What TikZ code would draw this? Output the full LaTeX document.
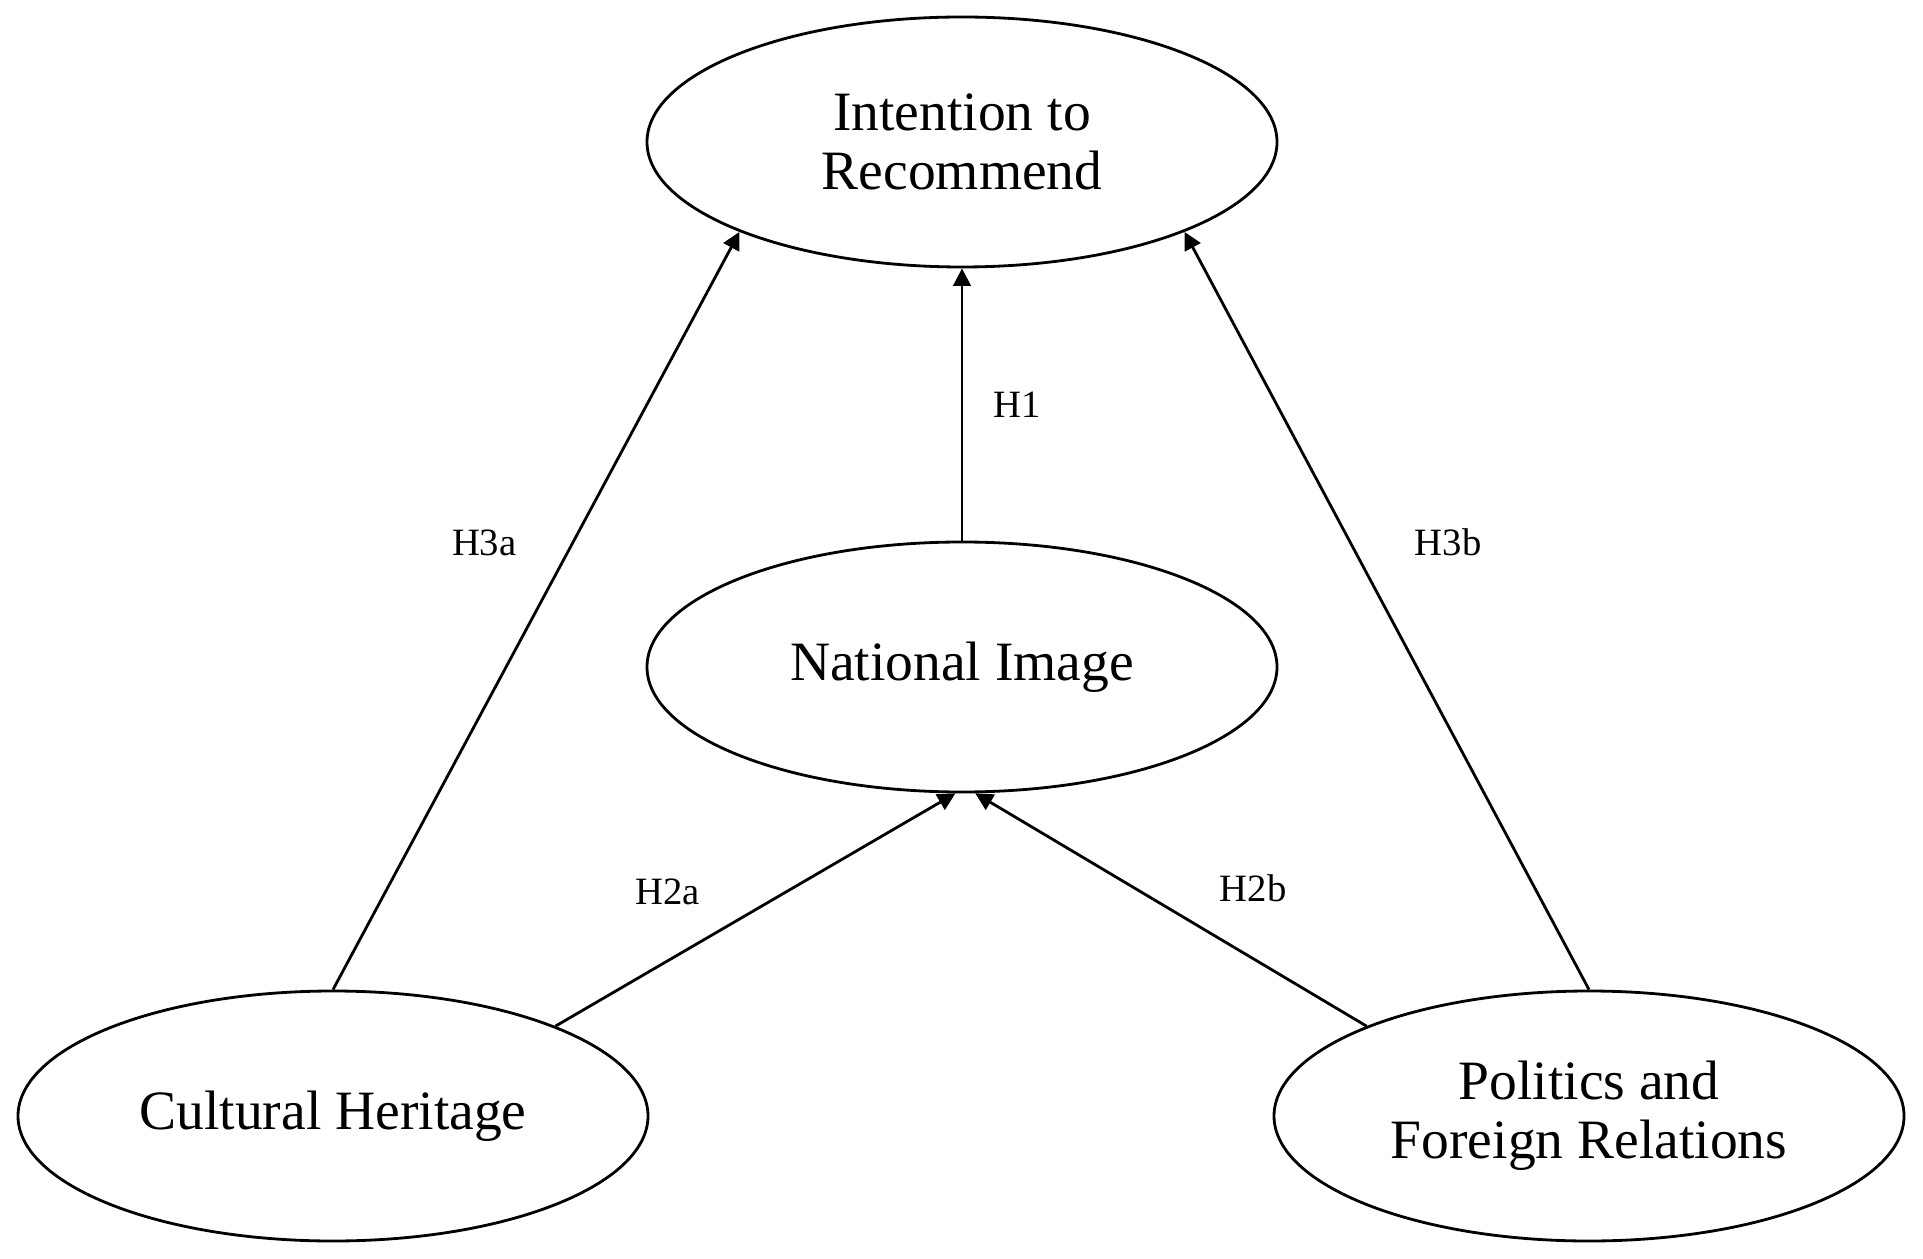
\documentclass[tikz,border=0pt]{standalone}
\usepackage{fontspec}
\setmainfont{Liberation Serif}
\usepackage{tikz}
\usetikzlibrary{positioning, shapes, arrows.meta}
\tikzset{C/.style={draw, ellipse, inner sep=0pt, minimum width=6.3cm, minimum height=2.5cm, align=center, font=\fontsize{15.8}{16.8}\selectfont}}
\tikzset{H/.style={inner sep=0pt, font=\fontsize{11}{12}\selectfont}}

\begin{document}
\begin{tikzpicture}[->, >={Triangle[length=5pt, width=5pt]}, line width=0.8pt]
\useasboundingbox (0,0) rectangle (19.23,12.58);
\node (NI) [C] at (9.62,5.91) {National Image};
\node (IR) [C, above of=NI, node distance=5.25cm] {Intention to\\Recommend};
\node (CH) [C] at (3.33,1.42) {Cultural Heritage};
\node (PF) [C, right of=CH, node distance=12.56cm] {Politics and\\Foreign Relations};
%
\path (NI) edge node[H, right=3mm] {H1} (IR);
\path (CH.north) edge node[H, pos=.59, left=5.5mm] {H3a} (IR.202);
\path (PF.north) edge node[H, pos=.59, right=6.3mm] {H3b} (IR.338);
\path (CH.22) edge node[H, pos=.28, above=5.5mm] {H2a} (NI.267.5);
\path (PF.158) edge node[H, pos=.29, above=5.5mm] {H2b} (NI.276);
\end{tikzpicture}
\end{document}
